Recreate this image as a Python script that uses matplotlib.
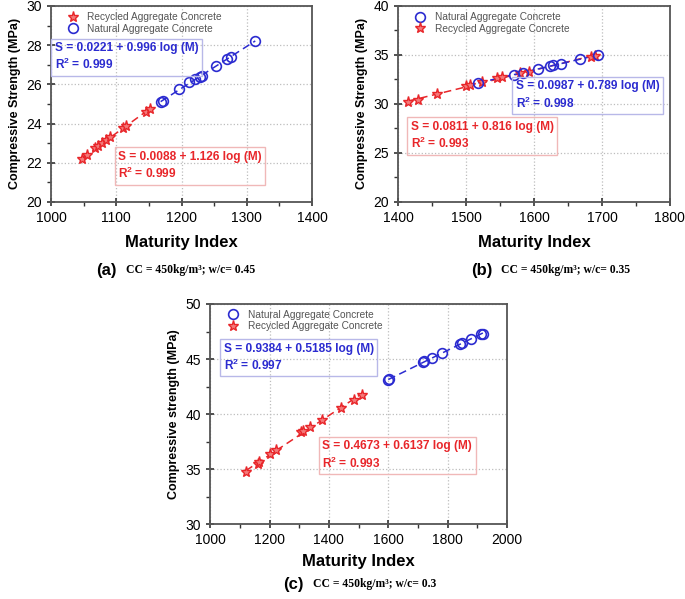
import matplotlib as mpl
mpl.use('Agg')
import matplotlib.pyplot as plt
import numpy as np
from matplotlib.ticker import MultipleLocator

plt.rcParams['font.family'] = ['Liberation Sans', 'DejaVu Sans']
plt.rcParams['mathtext.fontset'] = 'custom'
plt.rcParams['mathtext.rm'] = 'Liberation Sans'
plt.rcParams['mathtext.bf'] = 'Liberation Sans:bold'

RED = '#e8262a'
BLUE = '#2b2bd0'

# (a) CC = 450, w/c = 0.45
a_rac_x = [1048, 1055, 1068, 1072, 1078, 1085, 1090, 1110, 1115, 1145, 1152]
a_rac_y = [22.2, 22.4, 22.75, 22.85, 23.0, 23.15, 23.3, 23.75, 23.85, 24.6, 24.75]
a_nac_x = [1168, 1172, 1196, 1212, 1220, 1228, 1231, 1253, 1270, 1276, 1313]
a_nac_y = [25.1, 25.15, 25.75, 26.1, 26.25, 26.4, 26.45, 26.95, 27.3, 27.4, 28.2]

# (b) CC = 450, w/c = 0.35
b_rac_x = [1415, 1429, 1458, 1500, 1506, 1523, 1546, 1553, 1580, 1592, 1684, 1690]
b_rac_y = [30.2, 30.4, 31.0, 31.8, 31.9, 32.2, 32.6, 32.7, 33.2, 33.3, 34.8, 34.9]
b_nac_x = [1518, 1570, 1584, 1606, 1623, 1628, 1640, 1668, 1694]
b_nac_y = [32.1, 33.0, 33.2, 33.6, 33.85, 34.0, 34.1, 34.55, 34.95]

# (c) CC = 450, w/c = 0.3
c_rac_x = [1120, 1161, 1165, 1202, 1221, 1307, 1314, 1336, 1378, 1439, 1484, 1510]
c_rac_y = [34.7, 35.5, 35.6, 36.4, 36.75, 38.35, 38.45, 38.8, 39.5, 40.55, 41.3, 41.7]
c_nac_x = [1600, 1604, 1717, 1722, 1748, 1781, 1841, 1849, 1879, 1913, 1919]
c_nac_y = [43.1, 43.15, 44.7, 44.8, 45.1, 45.55, 46.4, 46.5, 46.8, 47.25, 47.3]


def draw_panel(ax, rac, nac, xlim, ylim, xmaj, xmin, ymaj, ymin, ylabel,
               order, eq_nac, eq_rac):
    for (x, y), col in ((rac, RED), (nac, BLUE)):
        k, b = np.polyfit(x, y, 1)
        xs = np.array([min(x), max(x)])
        ax.plot(xs, k * xs + b, ls=(0, (5, 3)), color=col, lw=1.1, zorder=2)
    h_r, = ax.plot(rac[0], rac[1], ls='', marker='*', ms=8, mec=RED,
                   mfc='#f47a7a', mew=1.0, zorder=3)
    h_n, = ax.plot(nac[0], nac[1], ls='', marker='o', ms=7, mec=BLUE,
                   mfc='none', mew=1.2, zorder=3)
    handles = {'r': (h_r, 'Recycled Aggregate Concrete'),
               'n': (h_n, 'Natural Aggregate Concrete')}
    hs = [handles[k][0] for k in order]
    ls = [handles[k][1] for k in order]
    ax.legend(hs, ls, loc='upper left', bbox_to_anchor=(0.03, 1.01),
              frameon=False, fontsize=7.3, labelcolor='#555555',
              handletextpad=0.8, borderpad=0.3, labelspacing=0.15,
              handlelength=1.2)

    for (x, y, txt, col, ec) in (eq_nac + (BLUE, '#b8b8e8'),
                                 eq_rac + (RED, '#f0b8b8')):
        ax.text(x, y, txt, color=col, fontsize=8.6, fontweight='bold',
                linespacing=1.25, va='top', ha='left', zorder=4,
                bbox=dict(boxstyle='square,pad=0.3', fc='none', ec=ec,
                          lw=1.0))

    ax.set_xlim(*xlim)
    ax.set_ylim(*ylim)
    ax.xaxis.set_major_locator(MultipleLocator(xmaj))
    ax.xaxis.set_minor_locator(MultipleLocator(xmin))
    ax.yaxis.set_major_locator(MultipleLocator(ymaj))
    ax.yaxis.set_minor_locator(MultipleLocator(ymin))
    ax.tick_params(which='major', direction='inout', length=6, width=1.2,
                   labelsize=10, colors='#333333', labelcolor='black')
    ax.tick_params(which='minor', direction='out', length=3, width=1.0,
                   colors='#333333')
    ax.grid(True, which='major', ls=':', color='#bdbdbd', lw=0.9)
    for s in ax.spines.values():
        s.set_color('#555555')
        s.set_linewidth(1.3)
    ax.set_xlabel('Maturity Index', fontsize=12, fontweight='bold',
                  labelpad=7)
    ax.set_ylabel(ylabel, fontsize=9, fontweight='bold', labelpad=4)


fig = plt.figure(figsize=(6.85, 5.99), dpi=100)

ax_a = fig.add_axes([0.0745, 0.663, 0.381, 0.327])
draw_panel(ax_a, (a_rac_x, a_rac_y), (a_nac_x, a_nac_y), (1000, 1400),
           (20, 30), 100, 50, 2, 1, 'Compressive Strength (MPa)', 'rn',
           (1006, 28.15, 'S = 0.0221 + 0.996 log (M)\nR$^{\\mathbf{2}}$ = 0.999'),
           (1103, 22.6, 'S = 0.0088 + 1.126 log (M)\nR$^{\\mathbf{2}}$ = 0.999'))

ax_b = fig.add_axes([0.581, 0.663, 0.397, 0.327])
draw_panel(ax_b, (b_rac_x, b_rac_y), (b_nac_x, b_nac_y), (1400, 1800),
           (20, 40), 100, 50, 5, 2.5, 'Compressive Strength (MPa)', 'nr',
           (1573, 32.4, 'S = 0.0987 + 0.789 log (M)\nR$^{\\mathbf{2}}$ = 0.998'),
           (1419, 28.25, 'S = 0.0811 + 0.816 log (M)\nR$^{\\mathbf{2}}$ = 0.993'))

ax_c = fig.add_axes([0.307, 0.125, 0.433, 0.3675])
draw_panel(ax_c, (c_rac_x, c_rac_y), (c_nac_x, c_nac_y), (1000, 2000),
           (30, 50), 200, 100, 5, 2.5, 'Compressive strength (MPa)', 'nr',
           (1045, 46.5, 'S = 0.9384 + 0.5185 log (M)\nR$^{\\mathbf{2}}$ = 0.997'),
           (1378, 37.6, 'S = 0.4673 + 0.6137 log (M)\nR$^{\\mathbf{2}}$ = 0.993'))
ax_c.set_xlabel('Maturity Index', fontsize=12, fontweight='bold',
                labelpad=5)

captions = [(96, 270, '(a)', 'CC = 450kg/m³; w/c= 0.45'),
            (471, 270, '(b)', 'CC = 450kg/m³; w/c= 0.35'),
            (283, 584, '(c)', 'CC = 450kg/m³; w/c= 0.3')]
W, H = 685, 599
for px, py, tag, txt in captions:
    fig.text(px / W, 1 - py / H, tag, fontsize=12, fontweight='bold',
             va='center', ha='left')
    fig.text((px + 30) / W, 1 - py / H, txt, fontsize=8.4, fontweight='bold',
             family='Liberation Serif', va='center', ha='left')

fig.savefig('out.png', dpi=100)
plt.close(fig)
